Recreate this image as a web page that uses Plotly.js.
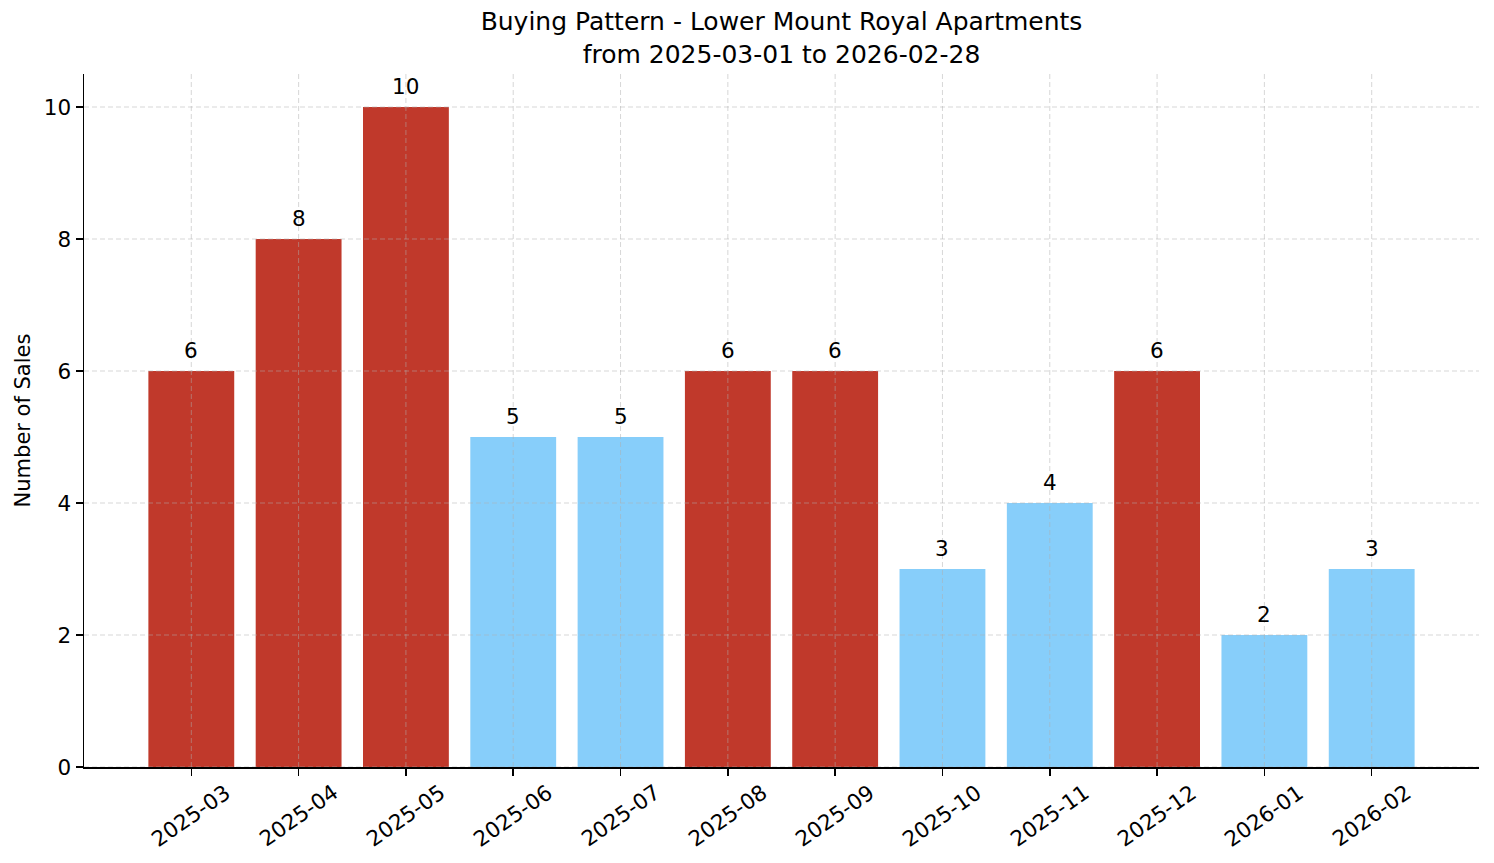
<!DOCTYPE html>
<html>
<head>
<meta charset="utf-8">
<script src="https://cdn.plot.ly/plotly-3.0.1.min.js"></script>
<style>html,body{margin:0;padding:0;background:#fff;}#chart{width:1494px;height:863px;}</style>
</head>
<body>
<div id="chart"></div>
<script>
const months = ["2025-03","2025-04","2025-05","2025-06","2025-07","2025-08","2025-09","2025-10","2025-11","2025-12","2026-01","2026-02"];
const sales = [6, 8, 10, 5, 5, 6, 6, 3, 4, 6, 2, 3];
const yTicks = [0, 2, 4, 6, 8, 10];
const titleText = "Buying Pattern - Lower Mount Royal Apartments<br>from 2025-03-01 to 2026-02-28";
const yLabel = "Number of Sales";

const HIGH = "#c0392b", LOW = "#87cefa";
const mean = sales.reduce((a, b) => a + b, 0) / sales.length;
const colors = sales.map(v => v > mean ? HIGH : LOW);

const FONT = "DejaVu Sans, sans-serif";
const FS = 21.5;
const gridStyle = {color: "rgba(176,176,176,0.5)", width: 1, dash: "5px,3px"};
const shapes = [];
months.forEach(m => shapes.push({type: "line", layer: "above", xref: "x", yref: "paper", x0: m, x1: m, y0: 0, y1: 1, line: gridStyle}));
yTicks.forEach(t => shapes.push({type: "line", layer: "above", xref: "paper", yref: "y", x0: 0, x1: 1, y0: t, y1: t, line: gridStyle}));

const annotations = months.map((m, i) => ({
  x: m, y: sales[i], xref: "x", yref: "y", text: String(sales[i]),
  showarrow: false, yanchor: "bottom", yshift: 6,
  font: {family: FONT, size: FS, color: "#000"}
}));
months.forEach(m => annotations.push({
  x: m, y: 0, xref: "x", yref: "paper", text: m, textangle: -35,
  showarrow: false, xanchor: "center", yanchor: "top", yshift: -10,
  font: {family: FONT, size: FS, color: "#000"}
}));

const trace = {
  type: "bar", x: months, y: sales, marker: {color: colors, line: {width: 0}},
  width: 0.8, hoverinfo: "x+y"
};

const layout = {
  width: 1494, height: 863,
  margin: {l: 84, r: 15, t: 74, b: 96},
  paper_bgcolor: "#fff", plot_bgcolor: "#fff",
  font: {family: FONT, size: FS, color: "#000"},
  title: {text: titleText, x: 0.5, xref: "paper", xanchor: "center", y: 1, yref: "paper", yanchor: "bottom", pad: {b: 44}, font: {family: FONT, size: 25, color: "#000"}},
  showlegend: false,
  bargap: 0.2,
  xaxis: {
    type: "category", range: [-1, 12], showgrid: false, zeroline: false,
    showline: true, linecolor: "#000", linewidth: 1.5,
    ticks: "outside", ticklen: 7, tickwidth: 1.5, tickcolor: "#000",
    showticklabels: false
  },
  yaxis: {
    range: [0, 10.5], tickvals: yTicks, showgrid: false, zeroline: false,
    showline: true, linecolor: "#000", linewidth: 1.5,
    ticks: "outside", ticklen: 7, tickwidth: 1.5, tickcolor: "#000",
    tickfont: {family: FONT, size: FS, color: "#000"},
    title: {text: yLabel, font: {family: FONT, size: 21, color: "#000"}, standoff: 7}
  },
  shapes: shapes,
  annotations: annotations
};

Plotly.newPlot("chart", [trace], layout, {displayModeBar: false, staticPlot: true});
</script>
</body>
</html>
